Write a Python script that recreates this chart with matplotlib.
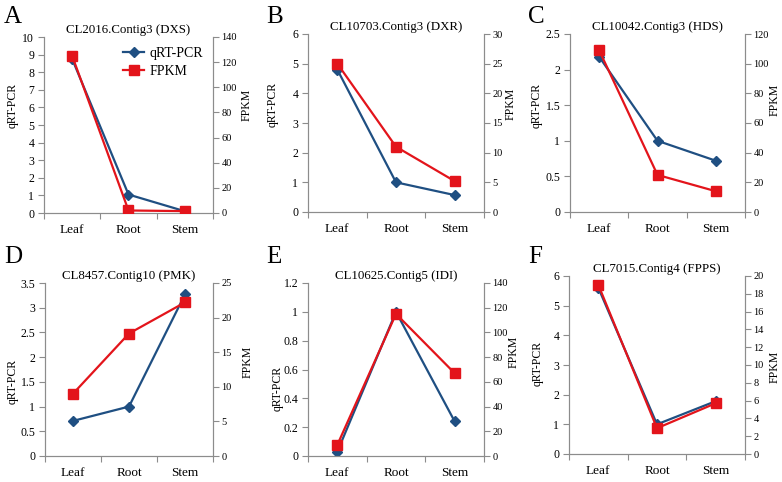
import matplotlib.pyplot as plt
from matplotlib.ticker import MultipleLocator

plt.rcParams['font.family'] = ['Liberation Serif', 'DejaVu Serif']

tissues = ['Leaf', 'Root', 'Stem']
letters = ['A', 'B', 'C', 'D', 'E', 'F']
titles = ['CL2016.Contig3 (DXS)', 'CL10703.Contig3 (DXR)', 'CL10042.Contig3 (HDS)',
          'CL8457.Contig10 (PMK)', 'CL10625.Contig5 (IDI)', 'CL7015.Contig4 (FPPS)']

qrt_a = [8.75, 1.05, 0.1]
fpkm_a = [125, 2, 1.5]
qrt_b = [4.8, 1.0, 0.57]
fpkm_b = [25, 11, 5.2]
qrt_c = [2.18, 1.0, 0.72]
fpkm_c = [109, 25, 14]
qrt_d = [0.71, 1.0, 3.27]
fpkm_d = [9, 17.7, 22.2]
qrt_e = [0.03, 1.0, 0.24]
fpkm_e = [9, 115, 67]
qrt_f = [5.6, 1.0, 1.78]
fpkm_f = [19, 2.9, 5.7]

qrt_all = [qrt_a, qrt_b, qrt_c, qrt_d, qrt_e, qrt_f]
fpkm_all = [fpkm_a, fpkm_b, fpkm_c, fpkm_d, fpkm_e, fpkm_f]
# (max, step) for left and right axes
left_scale = [(10, 1), (6, 1), (2.5, 0.5), (3.5, 0.5), (1.2, 0.2), (6, 1)]
right_scale = [(140, 20), (30, 5), (120, 20), (25, 5), (140, 20), (20, 2)]

# axes boxes in pixels: left, right, top, bottom
boxes = [(44, 213, 37, 213), (308, 484, 34, 212), (570, 745, 34, 212),
         (45, 213, 283, 456), (308, 484, 283, 456), (569, 745, 276, 454)]
letter_pos = [(4, 17), (266, 17), (528, 17), (4, 257), (266, 257), (528, 257)]
# centres of the y labels in pixels
left_lab = [(13, 105), (273, 104), (537, 105), (13, 381), (278, 388), (538, 363)]
right_lab = [(247, 105), (511, 104), (775, 100), (248, 362), (514, 352), (775, 367)]

W, H = 782, 482
blue = '#1f4f82'
red = '#e3141b'
grey = '#8c8c8c'

fig = plt.figure(figsize=(W / 100, H / 100), dpi=100)


def px(p):
    return p[0] / W, 1 - p[1] / H


for i in range(6):
    l, r, t, b = boxes[i]
    ax = fig.add_axes([l / W, 1 - b / H, (r - l) / W, (b - t) / H])
    ax2 = ax.twinx()
    x = range(3)
    ln1, = ax.plot(x, qrt_all[i], color=blue, marker='D', markersize=5, lw=1.6, zorder=2)
    ln2, = ax2.plot(x, fpkm_all[i], color=red, marker='s', markersize=7, lw=1.6, zorder=3)

    ax.set_xlim(-0.5, 2.5)
    ax.set_ylim(0, left_scale[i][0])
    ax.yaxis.set_major_locator(MultipleLocator(left_scale[i][1]))
    ax2.set_ylim(0, right_scale[i][0])
    ax2.yaxis.set_major_locator(MultipleLocator(right_scale[i][1]))

    ax.set_xticks([-0.5, 0.5, 1.5, 2.5])
    ax.set_xticklabels([])
    ax.set_xticks([0, 1, 2], minor=True)
    ax.set_xticklabels(tissues, minor=True, fontsize=9.5)
    ax.tick_params(axis='x', which='minor', length=0, pad=8)
    ax.tick_params(axis='x', which='major', length=4, color=grey)
    ax.tick_params(axis='y', length=4, color=grey, labelsize=8.5, pad=3)
    ax2.tick_params(axis='y', length=4, color=grey, labelsize=7.5, pad=2)
    for a in (ax, ax2):
        a.spines['top'].set_visible(False)
        for s in ('left', 'right', 'bottom'):
            a.spines[s].set_color(grey)
    ax.yaxis.set_major_formatter(plt.FuncFormatter(lambda v, p: '%g' % v))

    ax.set_ylabel('qRT-PCR', fontsize=8.5)
    ax.yaxis.set_label_coords(*px(left_lab[i]), transform=fig.transFigure)
    ax.yaxis.label.set_va('center')
    ax2.set_ylabel('FPKM', fontsize=8.5)
    ax2.yaxis.set_label_coords(*px(right_lab[i]), transform=fig.transFigure)
    ax2.yaxis.label.set_va('center')
    ax.set_title(titles[i], fontsize=9.3, pad=3)

    fig.text(*px(letter_pos[i]), letters[i], fontsize=18, va='center', ha='left')

    if i == 0:
        ax2.legend([ln1, ln2], ['qRT-PCR', 'FPKM'], loc='upper right', frameon=False,
                   fontsize=10, handlelength=1.5, borderaxespad=0.3, labelspacing=0.35,
                   handletextpad=0.4)

fig.savefig('out.png', dpi=100)
